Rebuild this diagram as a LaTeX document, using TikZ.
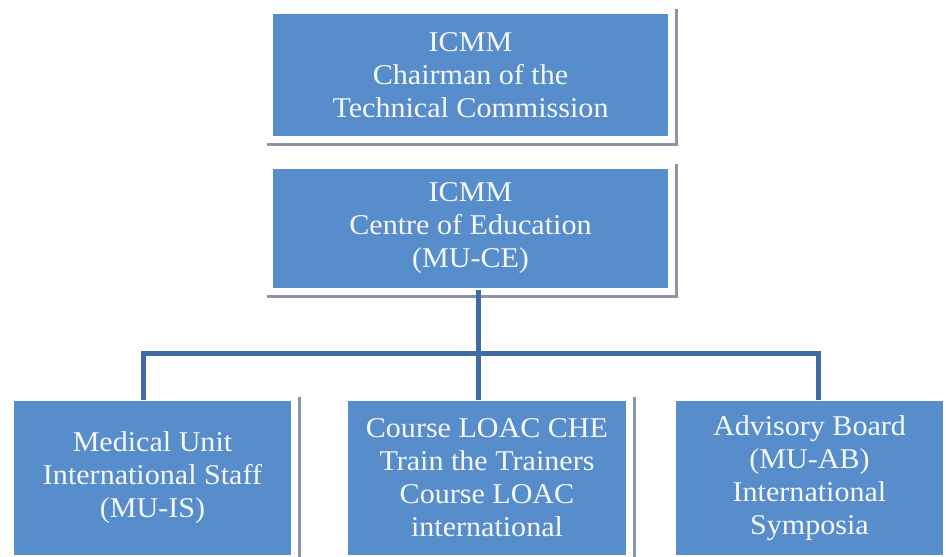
\documentclass[tikz,border=0pt]{standalone}
\usepackage{fontspec}
\setmainfont{Liberation Serif}[FakeStretch=1.05]
\usepackage{tikz}

\definecolor{boxblue}{RGB}{88,141,204}
\definecolor{linkblue}{RGB}{64,108,163}
\definecolor{framegray}{RGB}{140,150,162}

\begin{document}
\begin{tikzpicture}[x=0.02cm,y=-0.02cm,
	unit/.style={fill=boxblue,draw=white,line width=0.6pt,text=white!94!boxblue,align=center,inner sep=0pt,font=\fontsize{16.3}{18.8}\selectfont},
	link/.style={draw=linkblue,line width=0.1cm},
	frameline/.style={draw=framegray,line width=0.05cm}]

	\useasboundingbox (0,0) rectangle (946,556);
	\clip (0,0) rectangle (946,556);

	% Draw units
	\node[unit,minimum width=7.94cm,minimum height=2.48cm] (chair) at (470.5,75) {ICMM\\Chairman of the\\Technical Commission};
	\node[unit,minimum width=7.94cm,minimum height=2.42cm] (centre) at (470.5,228.5) {ICMM\\Centre of Education\\(MU-CE)};
	\node[unit,minimum width=5.58cm,minimum height=3.12cm] (staff) at (152.5,478) {Medical Unit\\International Staff\\(MU-IS)};
	\node[unit,minimum width=5.6cm,minimum height=3.12cm] (course) at (487,478) {Course LOAC CHE\\Train the Trainers\\Course LOAC\\international};
	\node[unit,minimum width=5.38cm,minimum height=3.12cm] (advice) at (809.5,478) {Advisory Board\\(MU-AB)\\International\\Symposia};

	% Draw frames
	\foreach \n in {chair,centre,staff,course,advice}
		\draw[frameline] ([shift={(-5,7)}]\n.south west) -- ([shift={(7,7)}]\n.south east) -- ([shift={(7,-3)}]\n.north east);

	% Draw links
	\coordinate (busL) at (143,353);
	\coordinate (busM) at (478,353);
	\coordinate (busR) at (818,353);
	\draw[link] (busM |- centre.south) -- (busM |- course.north);
	\draw[link] (busL |- staff.north) -- (busL) -- (busR) -- (busR |- advice.north);

\end{tikzpicture}
\end{document}
